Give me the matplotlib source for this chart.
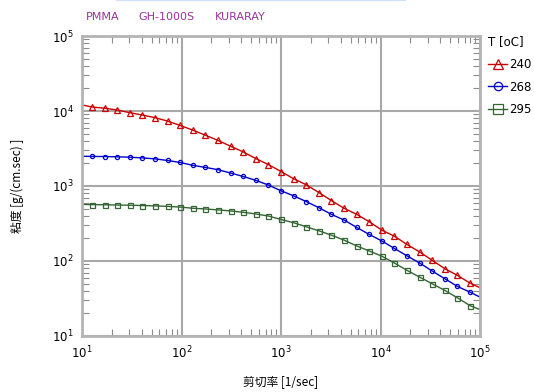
import numpy as np
import matplotlib.pyplot as plt
from matplotlib.lines import Line2D

plt.rcParams['font.family'] = ['DejaVu Sans', 'Noto Sans CJK JP']

# shear rate grid: line endpoints at 10 and 1e5, markers in between
log_marks = np.linspace(1.1, 4.9, 31)
shear = np.concatenate([[10.0], 10 ** log_marks, [1e5]])

temps = ["240", "268", "295"]

visc_240 = [12050,
            11300, 10900, 10300, 9500, 8830, 8150, 7340, 6420,
            5560, 4760, 4050, 3390, 2850, 2320, 1930, 1560,
            1250, 1038, 819, 639, 505, 419, 334, 258,
            214, 166, 132, 102, 79, 64.3, 50.7,
            44]
visc_268 = [2490,
            2480, 2470, 2450, 2420, 2370, 2300, 2190, 2060,
            1885, 1770, 1650, 1490, 1340, 1190, 1030, 863,
            740, 620, 514, 419, 352, 281, 226, 185,
            147, 117, 94, 73.4, 58, 45.8, 38.4,
            33]
visc_295 = [568,
            565, 562, 558, 554, 549, 543, 535, 524,
            505, 494, 480, 465, 446, 424, 398, 358,
            324, 286, 253, 221, 190, 159, 136, 116,
            94, 75, 61, 49.7, 40.5, 32.3, 25.4,
            22.5]

# (values, colour, marker, size on plot, size in legend)
series = [(visc_240, "#cc0000", "^", 4.2, 7.5),
          (visc_268, "#0000cc", "o", 3.0, 6.0),
          (visc_295, "#336633", "s", 3.6, 6.5)]

fig = plt.figure(figsize=(5.34, 3.92), dpi=100)
ax = fig.add_axes([82 / 534, 1 - 336 / 392, 398 / 534, 300 / 392])

handles = []
for (vals, col, mk, ms, ms_leg), t in zip(series, temps):
    ax.plot(shear, vals, color=col, lw=1.0, marker=mk, ms=ms, mfc="none",
            mec=col, mew=0.9, markevery=slice(1, -1))
    handles.append(Line2D([], [], color=col, lw=1.0, marker=mk, ms=ms_leg,
                          mfc="none", mec=col, mew=0.9, label=t))

ax.set_xscale("log")
ax.set_yscale("log")
ax.set_xlim(10, 1e5)
ax.set_ylim(10, 1e5)

ax.grid(True, which="major", color="#a8a8a8", lw=1.5)
for s in ax.spines.values():
    s.set_color("#b4b4b4")
    s.set_linewidth(2)
ax.tick_params(which="both", direction="in", top=True, right=True, color="#8c8c8c")
ax.tick_params(which="major", length=0, labelsize=8.5, pad=6)
ax.tick_params(which="minor", length=5, width=0.8)

ax.set_xlabel("剪切率 [1/sec]", fontsize=8.5, family=['Noto Sans CJK JP', 'DejaVu Sans'], labelpad=10)
ax.set_ylabel("粘度 [g/(cm.sec) ]", fontsize=8.5, family=['Noto Sans CJK JP', 'DejaVu Sans'], labelpad=20)

purple = "#993399"
fig.text(86 / 534, 1 - 17 / 392, "PMMA", color=purple, fontsize=8, va="center")
fig.text(138 / 534, 1 - 17 / 392, "GH-1000S", color=purple, fontsize=8, va="center")
fig.text(215 / 534, 1 - 17 / 392, "KURARAY", color=purple, fontsize=8, va="center")

fig.add_artist(Line2D([117 / 534, 405 / 534], [0.999, 0.999], color="#cfe0f8", lw=1.5))

leg = ax.legend(handles=handles, title="T [oC]", loc="upper left",
                bbox_to_anchor=(1.0, 1.03), frameon=False, fontsize=8.5,
                title_fontsize=8.5, handlelength=1.6, handletextpad=0.2,
                labelspacing=0.82, borderaxespad=0.3)
leg._legend_box.align = "left"

fig.savefig("out.png", dpi=100)
